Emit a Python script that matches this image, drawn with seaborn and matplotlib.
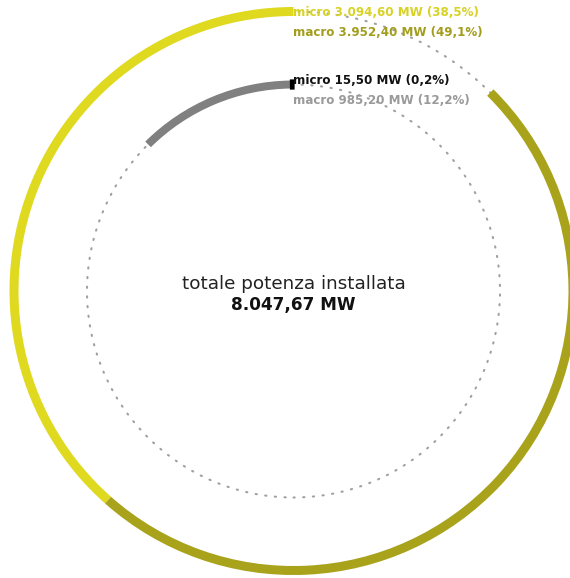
import numpy as np
import seaborn as sns
import matplotlib.pyplot as plt
from matplotlib.patches import Circle

sns.set_theme(style="white")
plt.rcParams['font.family'] = ['DejaVu Sans']

# dati (MW)
totale = 8047.67
esterno_labels = ['micro', 'macro']
esterno_valori = [3094.60, 3952.40]
interno_labels = ['micro', 'macro']
interno_valori = [15.50, 985.20]

col_esterno = ['#dfd920', '#a9a21b']
col_interno = ['#000000', '#808080']
col_testo_esterno = ['#d8d225', '#a39d1d']
col_testo_interno = ['#111111', '#9a9a9a']


def fmt_it(v):
    s = f"{v:,.2f}"
    return s.replace(',', 'X').replace('.', ',').replace('X', '.')


def fmt_pct(v):
    return f"{v / totale * 100:.1f}".replace('.', ',') + '%'


W, H = 570, 578
fig = plt.figure(figsize=(W / 100, H / 100), dpi=100)
ax = fig.add_axes([0, 0, 1, 1])

cx, cy = 293.5, H - 291
w_out, w_in = 9, 8
r_out, r_in = 279.5 + w_out / 2, 206.5 + w_in / 2

# cerchi tratteggiati di sfondo
for r, w in ((r_out, w_out), (r_in, w_in)):
    c = Circle((cx, cy), r - w / 2, fill=False, ec='#a0a0a0', lw=1.5,
               ls=(0, (0.6, 4.05)), zorder=1)
    c.set_capstyle('round')
    ax.add_patch(c)

resto_out = totale - sum(esterno_valori)
ax.pie(esterno_valori + [resto_out], colors=col_esterno + ['none'],
       startangle=90, counterclock=True, radius=r_out, center=(cx, cy),
       wedgeprops=dict(width=w_out, linewidth=0), frame=True)

resto_in = totale - sum(interno_valori)
wedges, _ = ax.pie(interno_valori + [resto_in], colors=col_interno + ['none'],
                   startangle=90, counterclock=True, radius=r_in, center=(cx, cy),
                   wedgeprops=dict(width=w_in, linewidth=0), frame=True)
# segmento micro molto piccolo: bordo per renderlo visibile
wedges[0].set_edgecolor(col_interno[0])
wedges[0].set_linewidth(1.6)
wedges[0].set_zorder(3)

ax.set_xlim(0, W)
ax.set_ylim(0, H)
ax.set_aspect('equal')
ax.axis('off')

# etichette anello esterno
for i, (lab, v) in enumerate(zip(esterno_labels, esterno_valori)):
    ax.text(293, H - 12 - 20 * i, f"{lab} {fmt_it(v)} MW ({fmt_pct(v)})",
            color=col_testo_esterno[i], fontsize=8.6, fontweight='bold',
            ha='left', va='center', zorder=5)

# etichette anello interno
for i, (lab, v) in enumerate(zip(interno_labels, interno_valori)):
    ax.text(293, H - 80 - 20 * i, f"{lab} {fmt_it(v)} MW ({fmt_pct(v)})",
            color=col_testo_interno[i], fontsize=8.6, fontweight='bold',
            ha='left', va='center', zorder=5)

# testo centrale
ax.text(cx, H - 284, 'totale potenza installata', ha='center', va='center',
        fontsize=13.2, color='#222222')
ax.text(cx, H - 305, f"{fmt_it(totale)} MW", ha='center', va='center',
        fontsize=12.2, fontweight='bold', color='#111111')

fig.savefig('out.png', dpi=100)
